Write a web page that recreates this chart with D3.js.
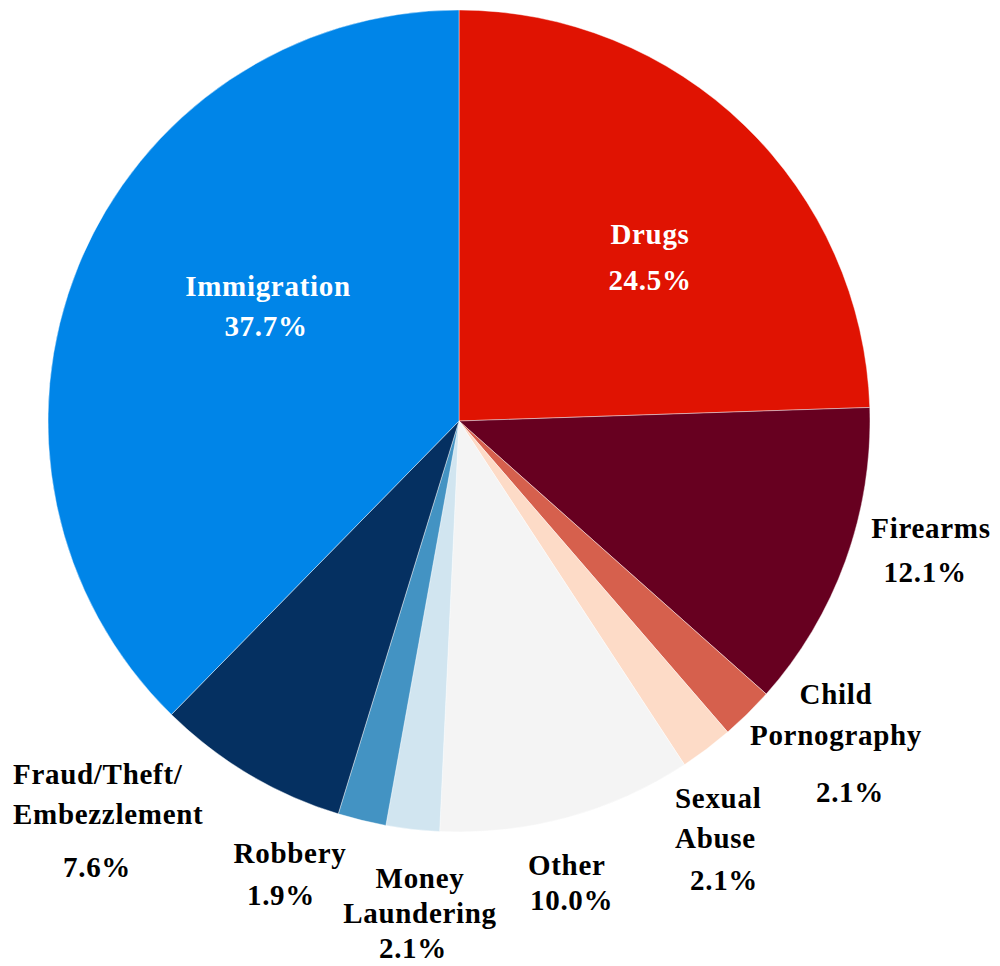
<!DOCTYPE html>
<html>
<head>
<meta charset="utf-8">
<script src="https://cdn.jsdelivr.net/npm/d3@7/dist/d3.min.js"></script>
<style>
  html, body { margin: 0; padding: 0; background: #ffffff; }
  svg { display: block; }
  text { font-family: "Liberation Serif", "DejaVu Serif", serif; font-weight: bold; letter-spacing: 0.7px; }
</style>
</head>
<body>
<svg id="chart" width="1000" height="966"></svg>
<script>
// ---- Data ----
const categories = ["Drugs", "Firearms", "Child Pornography", "Sexual Abuse", "Other",
                    "Money Laundering", "Robbery", "Fraud/Theft/Embezzlement", "Immigration"];
const values = [24.5, 12.1, 2.1, 2.1, 10.0, 2.1, 1.9, 7.6, 37.7];
const labelLines = [
  ["Drugs"], ["Firearms"], ["Child", "Pornography"], ["Sexual", "Abuse"], ["Other"],
  ["Money", "Laundering"], ["Robbery"], ["Fraud/Theft/", "Embezzlement"], ["Immigration"]
];
const colors = ["#e01302", "#670020", "#d6604d", "#fddbc7", "#f4f4f4",
                "#d1e5f0", "#4393c3", "#053061", "#0085e8"];

// ---- Layout (label placement, not data) ----
const labelLayout = [
  {x: 650, y: 244, gap: 40, pctGap: 46, anchor: "middle", px: 0, fill: "#ffffff"},
  {x: 931, y: 538, gap: 40, pctGap: 44, anchor: "middle", px: -6, fill: "#000"},
  {x: 836, y: 704, gap: 41, pctGap: 57, anchor: "middle", px: 14, fill: "#000"},
  {x: 675, y: 808, gap: 40, pctGap: 42, anchor: "start", px: 15, fill: "#000"},
  {x: 528, y: 875, gap: 40, pctGap: 35, anchor: "start", px: 2, fill: "#000"},
  {x: 420, y: 888, gap: 35, pctGap: 35, anchor: "middle", px: -7, fill: "#000"},
  {x: 290, y: 863, gap: 40, pctGap: 42, anchor: "middle", px: -9, fill: "#000"},
  {x: 13, y: 784, gap: 40, pctGap: 53, anchor: "start", px: 50, fill: "#000"},
  {x: 268, y: 296, gap: 40, pctGap: 40, anchor: "middle", px: -2, fill: "#ffffff"}
];

const cx = 459, cy = 421, R = 411;
const svg = d3.select("#chart");
const g = svg.append("g").attr("transform", `translate(${cx},${cy})`);

const data = categories.map((c, i) => ({name: c, value: values[i], i}));
const pie = d3.pie().sort(null).value(d => d.value).startAngle(0).endAngle(2 * Math.PI);
const arc = d3.arc().innerRadius(0).outerRadius(R);
const color = d3.scaleOrdinal().domain(categories).range(colors);

g.selectAll("path.slice")
  .data(pie(data))
  .join("path")
  .attr("class", "slice")
  .attr("d", arc)
  .attr("fill", d => color(d.data.name))
  .attr("stroke", "#ffffff")
  .attr("stroke-opacity", 0.6)
  .attr("stroke-width", 0.7);

const fmt = d3.format(".1f");
const labels = svg.append("g").attr("class", "labels");
data.forEach((d, i) => {
  const L = labelLayout[i];
  const lines = labelLines[i];
  const t = labels.append("g");
  lines.forEach((ln, k) => {
    t.append("text")
      .attr("x", L.x)
      .attr("y", L.y + k * L.gap)
      .attr("text-anchor", L.anchor)
      .attr("fill", L.fill)
      .attr("font-size", 29)
      .text(ln);
  });
  t.append("text")
    .attr("x", L.x + L.px)
    .attr("y", L.y + (lines.length - 1) * L.gap + L.pctGap)
    .attr("text-anchor", L.anchor)
    .attr("fill", L.fill)
    .attr("font-size", 29)
    .text(fmt(d.value) + "%");
});
</script>
</body>
</html>
